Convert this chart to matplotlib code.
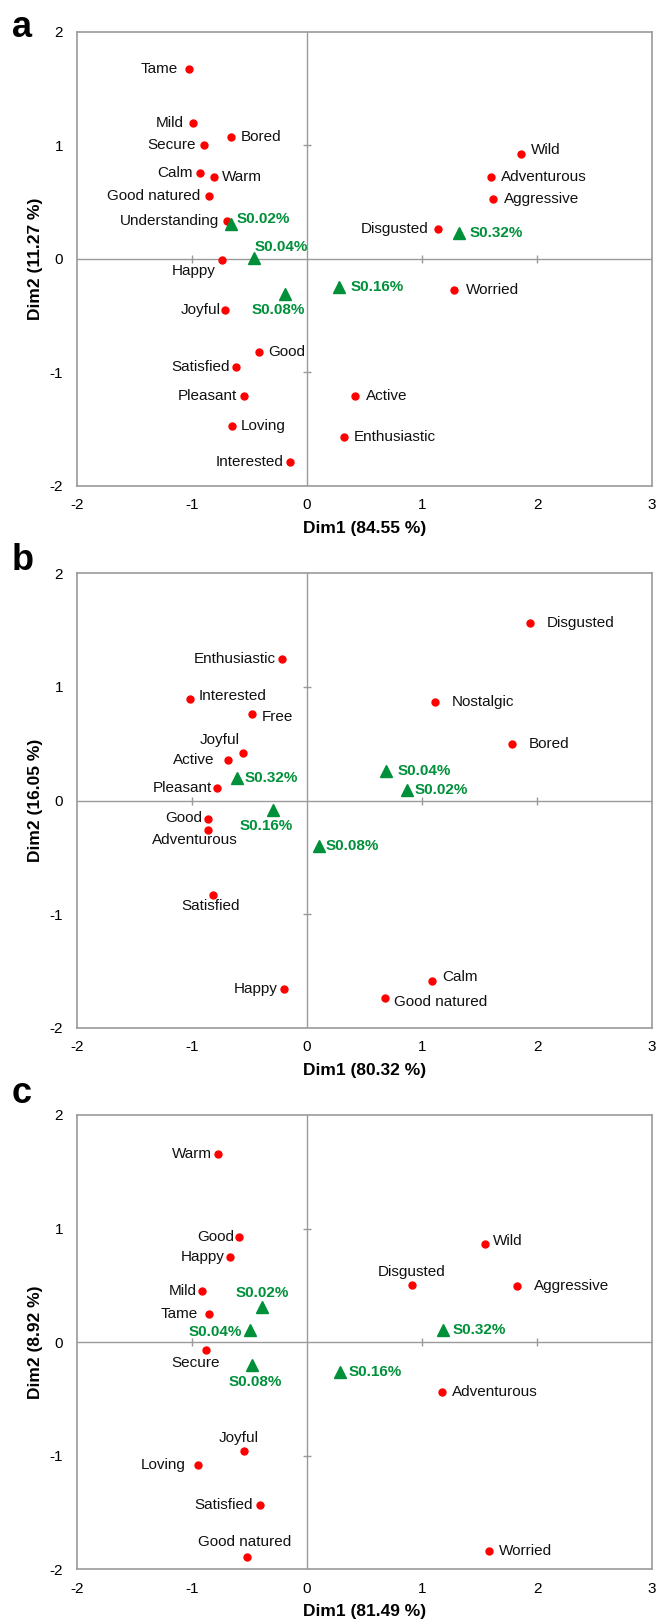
import matplotlib.pyplot as plt

plt.rcParams['font.family'] = ['Liberation Sans', 'DejaVu Sans']
plt.rcParams['axes.unicode_minus'] = False

# ---- panel a ----
a_words = ['Tame', 'Mild', 'Bored', 'Secure', 'Calm', 'Warm', 'Good natured',
           'Understanding', 'Happy', 'Joyful', 'Good', 'Satisfied', 'Pleasant',
           'Loving', 'Interested', 'Wild', 'Adventurous', 'Aggressive',
           'Disgusted', 'Worried', 'Active', 'Enthusiastic']
a_x = [-1.03, -0.99, -0.66, -0.90, -0.93, -0.81, -0.85, -0.70, -0.74, -0.71,
       -0.42, -0.62, -0.55, -0.65, -0.15, 1.86, 1.60, 1.62, 1.14, 1.28, 0.42, 0.32]
a_y = [1.67, 1.20, 1.07, 1.00, 0.76, 0.72, 0.55, 0.33, -0.01, -0.45,
       -0.82, -0.95, -1.21, -1.47, -1.79, 0.92, 0.72, 0.53, 0.26, -0.27, -1.21, -1.57]
a_samples = ['S0.02%', 'S0.04%', 'S0.08%', 'S0.16%', 'S0.32%']
a_sx = [-0.66, -0.46, -0.19, 0.28, 1.32]
a_sy = [0.31, 0.01, -0.31, -0.25, 0.23]

# ---- panel b ----
b_words = ['Enthusiastic', 'Interested', 'Free', 'Joyful', 'Active', 'Pleasant',
           'Good', 'Adventurous', 'Satisfied', 'Happy', 'Disgusted', 'Nostalgic',
           'Bored', 'Calm', 'Good natured']
b_x = [-0.22, -1.02, -0.48, -0.56, -0.69, -0.78, -0.86, -0.86, -0.82, -0.20,
       1.94, 1.11, 1.78, 1.09, 0.68]
b_y = [1.25, 0.89, 0.76, 0.42, 0.36, 0.11, -0.16, -0.26, -0.83, -1.66,
       1.56, 0.87, 0.50, -1.59, -1.74]
b_samples = ['S0.02%', 'S0.04%', 'S0.08%', 'S0.16%', 'S0.32%']
b_sx = [0.87, 0.69, 0.10, -0.30, -0.61]
b_sy = [0.09, 0.26, -0.40, -0.08, 0.20]

# ---- panel c ----
c_words = ['Warm', 'Good', 'Happy', 'Mild', 'Tame', 'Secure', 'Joyful', 'Loving',
           'Satisfied', 'Good natured', 'Wild', 'Disgusted', 'Aggressive',
           'Adventurous', 'Worried']
c_x = [-0.77, -0.59, -0.67, -0.91, -0.85, -0.88, -0.55, -0.95, -0.41, -0.52,
       1.55, 0.91, 1.83, 1.17, 1.58]
c_y = [1.66, 0.93, 0.75, 0.45, 0.25, -0.07, -0.96, -1.08, -1.43, -1.89,
       0.86, 0.50, 0.49, -0.44, -1.84]
c_samples = ['S0.02%', 'S0.04%', 'S0.08%', 'S0.16%', 'S0.32%']
c_sx = [-0.39, -0.50, -0.48, 0.29, 1.18]
c_sy = [0.31, 0.11, -0.20, -0.26, 0.11]

# label offsets in pixels (dx, dy, ha)
L, R, C = 'right', 'left', 'center'
a_off = {'Tame': (-11, 0, L), 'Mild': (-9, 0, L), 'Bored': (10, 0, R),
         'Secure': (-8, 0, L), 'Calm': (-7, 0, L), 'Warm': (8, 0, R),
         'Good natured': (-9, 0, L), 'Understanding': (-7, 0, L),
         'Happy': (-28, -11, C), 'Joyful': (-5, 0, L), 'Good': (10, 0, R),
         'Satisfied': (-6, 0, L), 'Pleasant': (-7, 0, L), 'Loving': (8, 0, R),
         'Interested': (-6, 0, L), 'Wild': (10, 4, R), 'Adventurous': (10, 0, R),
         'Aggressive': (11, 0, R), 'Disgusted': (-10, 0, L), 'Worried': (12, 0, R),
         'Active': (11, 0, R), 'Enthusiastic': (10, 0, R)}
a_soff = {'S0.02%': (6, 5, R), 'S0.04%': (1, 11, R), 'S0.08%': (-7, -16, C),
          'S0.16%': (11, 0, R), 'S0.32%': (11, 0, R)}
b_off = {'Enthusiastic': (-6, 0, L), 'Interested': (9, 3, R), 'Free': (10, -3, R),
         'Joyful': (-23, 13, C), 'Active': (-13, 0, L), 'Pleasant': (-5, 0, L),
         'Good': (-6, 1, L), 'Adventurous': (-13, -10, C), 'Satisfied': (-2, -11, C),
         'Happy': (-6, 0, L), 'Disgusted': (17, 0, R), 'Nostalgic': (17, 0, R),
         'Bored': (17, 0, R), 'Calm': (10, 4, R), 'Good natured': (9, -4, R)}
b_soff = {'S0.02%': (8, 0, R), 'S0.04%': (11, 0, R), 'S0.08%': (7, 0, R),
          'S0.16%': (-6, -16, C), 'S0.32%': (8, 0, R)}
c_off = {'Warm': (-7, 0, L), 'Good': (-5, 0, L), 'Happy': (-5, 0, L),
         'Mild': (-6, 0, L), 'Tame': (-11, 0, L), 'Secure': (-10, -13, C),
         'Joyful': (-5, 13, C), 'Loving': (-12, 0, L), 'Satisfied': (-7, 0, L),
         'Good natured': (-3, 15, C), 'Wild': (8, 3, R), 'Disgusted': (0, 13, C),
         'Aggressive': (17, 0, R), 'Adventurous': (10, 0, R), 'Worried': (10, 0, R)}
c_soff = {'S0.02%': (0, 14, C), 'S0.04%': (-8, -2, L), 'S0.08%': (3, -17, C),
          'S0.16%': (8, 0, R), 'S0.32%': (10, 0, R)}

dim1 = ['Dim1 (84.55 %)', 'Dim1 (80.32 %)', 'Dim1 (81.49 %)']
dim2 = ['Dim2 (11.27 %)', 'Dim2 (16.05 %)', 'Dim2 (8.92 %)']
xticks = [-2, -1, 0, 1, 2, 3]
yticks = [-2, -1, 0, 1, 2]

RED = '#ff0000'
GREEN = '#00903a'
GRAY = '#9a9a9a'
PX = 0.72  # points per pixel at dpi 100

fig = plt.figure(figsize=(6.57, 16.22), dpi=100)

panels = [
    ('a', a_words, a_x, a_y, a_off, a_samples, a_sx, a_sy, a_soff, 0.70037, 0.9770),
    ('b', b_words, b_x, b_y, b_off, b_samples, b_sx, b_sy, b_soff, 0.36640, 0.6486),
    ('c', c_words, c_x, c_y, c_off, c_samples, c_sx, c_sy, c_soff, 0.03249, 0.3200),
]

for i, (tag, words, wx, wy, woff, samp, sx, sy, soff, bottom, tagy) in enumerate(panels):
    ax = fig.add_axes([0.1172, bottom, 0.8752, 0.2801])
    ax.set_xlim(-2, 3)
    ax.set_ylim(-2, 2)
    for s in ax.spines.values():
        s.set_color(GRAY)
        s.set_linewidth(1.2)
    ax.set_xticks(xticks)
    ax.set_yticks(yticks)
    ax.tick_params(length=0, labelsize=11, pad=9)
    ax.tick_params(axis='y', pad=10)

    # zero axes with crossing ticks
    ax.axhline(0, color=GRAY, lw=1.0, zorder=1)
    ax.axvline(0, color=GRAY, lw=1.0, zorder=1)
    inner_x = [t for t in xticks if t not in (0, xticks[0], xticks[-1])]
    inner_y = [t for t in yticks if t not in (0, yticks[0], yticks[-1])]
    ax.plot(inner_x, [0] * len(inner_x), ls='none', marker='|', ms=6, mew=1.0,
            color=GRAY, zorder=1)
    ax.plot([0] * len(inner_y), inner_y, ls='none', marker='_', ms=6, mew=1.0,
            color=GRAY, zorder=1)

    ax.plot(wx, wy, ls='none', marker='o', ms=5, color=RED, zorder=3)
    ax.plot(sx, sy, ls='none', marker='^', ms=8, color=GREEN, zorder=3)

    for w, x, y in zip(words, wx, wy):
        dx, dy, ha = woff[w]
        ax.annotate(w, (x, y), xytext=(dx * PX, dy * PX), textcoords='offset points',
                    ha=ha, va='center', fontsize=11, color='#111111')
    for w, x, y in zip(samp, sx, sy):
        dx, dy, ha = soff[w]
        ax.annotate(w, (x, y), xytext=(dx * PX, dy * PX), textcoords='offset points',
                    ha=ha, va='center', fontsize=11, fontweight='bold', color=GREEN)

    ax.set_xlabel(dim1[i], fontsize=12.5, fontweight='bold', labelpad=6)
    ax.set_ylabel(dim2[i], fontsize=12.5, fontweight='bold', labelpad=5)

    fig.text(0.018, tagy, tag, fontsize=26, fontweight='bold', va='baseline')

fig.savefig('out.png', dpi=100)
